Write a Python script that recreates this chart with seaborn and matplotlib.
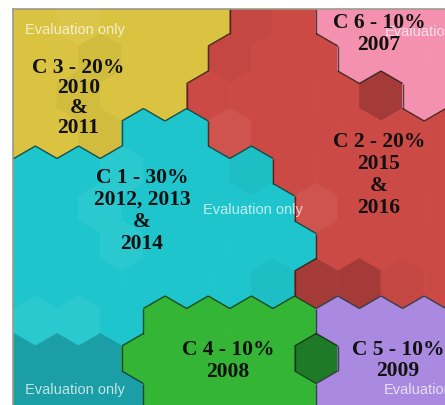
import numpy as np
import seaborn as sns
import matplotlib.pyplot as plt
from matplotlib.colors import to_rgb
from matplotlib.collections import PolyCollection, LineCollection

# Cluster code of every cell of the map, one string per hex row (top to bottom).
# Odd rows are shifted half a cell to the right.
cell_rows = [
    "YYYYYYRRPPPP",
    "YYYYYRRRPPP",
    "YYYYYRRRRDPP",
    "YYYCCRRRRRR",
    "CCCCCCCRRRRR",
    "CCCCCCCRRRR",
    "CCCCCCCCRRRR",
    "CCCCCCCDDRR",
    "CCCCGGGGVVVV",
    "TTTGGGGHVVV",
    "TTTTGGGGVVVV",
]
# Small shade differences inside a cluster: 0 base, + lighter, - darker
shade_rows = [
    "00+000-00000",
    "00-00-00000",
    "00-000000000",
    "00-00+00000",
    "000+00-00000",
    "00+0000+000",
    "000+00000000",
    "000000-00-0",
    "0++000000000",
    "00000000000",
    "000000000000",
]

cell_colors = {"Y": "#d9c340", "C": "#1fc5cc", "T": "#1b9ea5", "R": "#cc4a45",
               "D": "#a53b39", "P": "#f491b1", "G": "#35b535", "H": "#1f7a28",
               "V": "#a98ae0"}
cluster_of = {"Y": "C3", "C": "C1", "T": "C1", "R": "C2", "D": "C2", "P": "C6",
              "G": "C4", "H": "H", "V": "C5"}

label_lines = [["C 3 - 20%", "2010", "&", "2011"],
               ["C 1 - 30%", "2012, 2013", "&", "2014"],
               ["C 6 - 10%", "2007"],
               ["C 2 - 20%", "2015", "&", "2016"],
               ["C 4 - 10%", "2008"],
               ["C 5 - 10%", "2009"]]
label_x = [78.5, 142, 379, 379, 228, 398]
label_y = [73, 183, 28, 147, 355, 355]
label_step = [20, 22, 22, 22, 22, 21]

wm_text = ["Evaluation only", "Evaluation only", "Evaluation only", "Evaluation", "Evaluation"]
wm_x = [25, 203, 25, 385, 384]
wm_y = [30, 210, 390, 32, 390]

# grid geometry (pixels)
cell_w = 43.2
row_h = 37.5
x0, y0 = -7.8, 22
hex_h = row_h / 0.75

sns.set_style("white")
plt.rcParams["font.family"] = ["Liberation Serif", "DejaVu Serif"]

fig = plt.figure(figsize=(4.45, 4.06), dpi=100)
ax = fig.add_axes([13 / 445, 0, 432 / 445, 396 / 406])


def shade(c, s):
    rgb = np.array(to_rgb(c))
    if s == "+":
        return tuple(rgb + (1 - rgb) * 0.05)
    if s == "-":
        return tuple(rgb * 0.965)
    return tuple(rgb)


polys, faces, groups = [], [], []
for r, (row, srow) in enumerate(zip(cell_rows, shade_rows)):
    for c, code in enumerate(row):
        cx = x0 + c * cell_w + (cell_w / 2 if r % 2 else 0)
        cy = y0 + r * row_h
        verts = [(cx, cy - hex_h / 2), (cx + cell_w / 2, cy - hex_h / 4),
                 (cx + cell_w / 2, cy + hex_h / 4), (cx, cy + hex_h / 2),
                 (cx - cell_w / 2, cy + hex_h / 4), (cx - cell_w / 2, cy - hex_h / 4)]
        polys.append(verts)
        faces.append(shade(cell_colors[code], srow[c]))
        groups.append(cluster_of[code])

ax.add_collection(PolyCollection(polys, facecolors=faces, edgecolors=faces,
                                 linewidths=0.6, zorder=1))

# cluster borders: edges shared by cells of different clusters
edges = {}
for verts, g in zip(polys, groups):
    for i in range(6):
        a, b = verts[i], verts[(i + 1) % 6]
        key = tuple(sorted([(round(a[0], 1), round(a[1], 1)), (round(b[0], 1), round(b[1], 1))]))
        edges.setdefault(key, []).append(g)
border = [list(k) for k, gs in edges.items() if len(gs) == 2 and gs[0] != gs[1]]
ax.add_collection(LineCollection(border, colors=(0.05, 0.12, 0.08, 0.7),
                                 linewidths=1.0, zorder=2))

for t, x, y in zip(wm_text, wm_x, wm_y):
    ax.text(x, y, t, ha="left", va="center", fontsize=10.5, color="white",
            alpha=0.72, family=["Liberation Sans"], zorder=3)

for lines, x, y, step in zip(label_lines, label_x, label_y, label_step):
    for i, line in enumerate(lines):
        ax.text(x, y + i * step, line, ha="center", va="baseline", fontsize=15.5,
                fontweight="bold", color="#111111", zorder=4)

ax.set_xlim(13, 445)
ax.set_ylim(406, 10)
ax.set_xticks([])
ax.set_yticks([])
for side in ["right", "bottom"]:
    ax.spines[side].set_visible(False)
for side in ["left", "top"]:
    ax.spines[side].set_color("#9c9a88")
    ax.spines[side].set_linewidth(1.2)

fig.savefig("out.png", dpi=100)
